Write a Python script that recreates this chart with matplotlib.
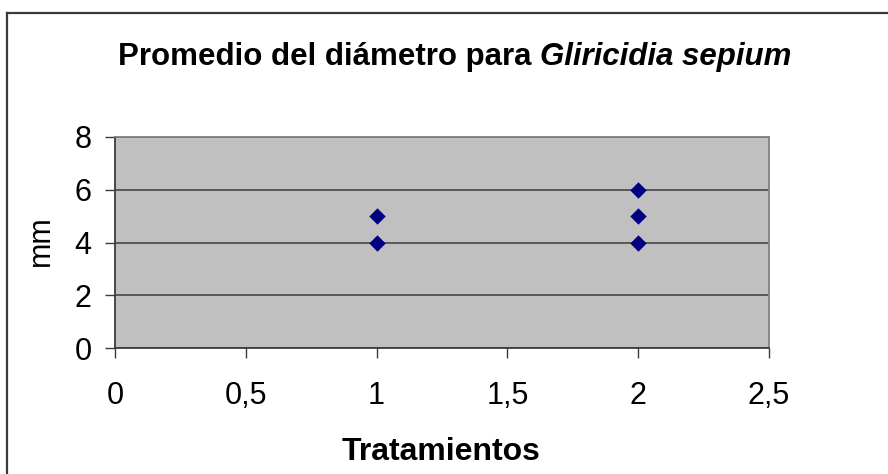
import matplotlib
matplotlib.use("Agg")
import matplotlib.pyplot as plt
from matplotlib.lines import Line2D
from matplotlib.ticker import FuncFormatter

# Diameter measurements per treatment (mm)
tratamiento = [1, 1, 2, 2, 2]
diametro = [4, 5, 4, 5, 6]

x_ticks = [0, 0.5, 1, 1.5, 2, 2.5]
y_ticks = [0, 2, 4, 6, 8]

plt.rcParams["font.family"] = ["Liberation Sans", "DejaVu Sans"]

fig = plt.figure(figsize=(8.88, 4.74), dpi=100)
W, H = 888, 474

# Outer chart frame (left and top edges)
fig.add_artist(Line2D([7 / W, 7 / W], [0, 1 - 13 / H], transform=fig.transFigure,
                      color="#3a3a3a", lw=1.6))
fig.add_artist(Line2D([7 / W, 1], [1 - 13 / H, 1 - 13 / H], transform=fig.transFigure,
                      color="#3a3a3a", lw=1.6))

ax = fig.add_axes([115 / W, 1 - 348 / H, (769 - 115) / W, (348 - 137) / H])
ax.set_facecolor("#C0C0C0")

ax.scatter(tratamiento, diametro, marker="D", s=70, color="#000080", zorder=3,
           linewidths=0)

ax.set_xlim(0, 2.5)
ax.set_ylim(0, 8)
ax.set_xticks(x_ticks)
ax.set_yticks(y_ticks)
fmt = FuncFormatter(lambda v, p: f"{v:g}".replace(".", ","))
ax.xaxis.set_major_formatter(fmt)
ax.yaxis.set_major_formatter(fmt)

ax.grid(axis="y", color="#3c3c3c", lw=1.1, zorder=1)
ax.set_axisbelow(True)

for side in ("left", "bottom"):
    ax.spines[side].set_color("#3c3c3c")
    ax.spines[side].set_linewidth(1.3)
for side in ("top", "right"):
    ax.spines[side].set_color("#808080")
    ax.spines[side].set_linewidth(1.3)

ax.tick_params(direction="out", length=7, width=1.0, color="#3c3c3c",
               labelsize=22)
ax.tick_params(axis="x", pad=17)
ax.tick_params(axis="y", pad=10)

# Title: bold, species name in italics
t1 = fig.text(0, 0, "Promedio del diámetro para ", fontsize=22.5, fontweight="bold")
t2 = fig.text(0, 0, "Gliricidia sepium", fontsize=22.5, fontweight="bold", style="italic")
fig.canvas.draw()
r = fig.canvas.get_renderer()
w1 = t1.get_window_extent(r).width
w2 = t2.get_window_extent(r).width
x0 = 455 - (w1 + w2) / 2
yb = 1 - 65 / H
t1.set_position((x0 / W, yb))
t1.set_va("baseline")
t2.set_position(((x0 + w1) / W, yb))
t2.set_va("baseline")

fig.text(441 / W, 1 - 460 / H, "Tratamientos", fontsize=23, fontweight="bold",
         ha="center", va="baseline")
fig.text(41 / W, 1 - 241 / H, "mm", fontsize=22, rotation=90,
         ha="center", va="center")

fig.savefig("out.png", dpi=100)
